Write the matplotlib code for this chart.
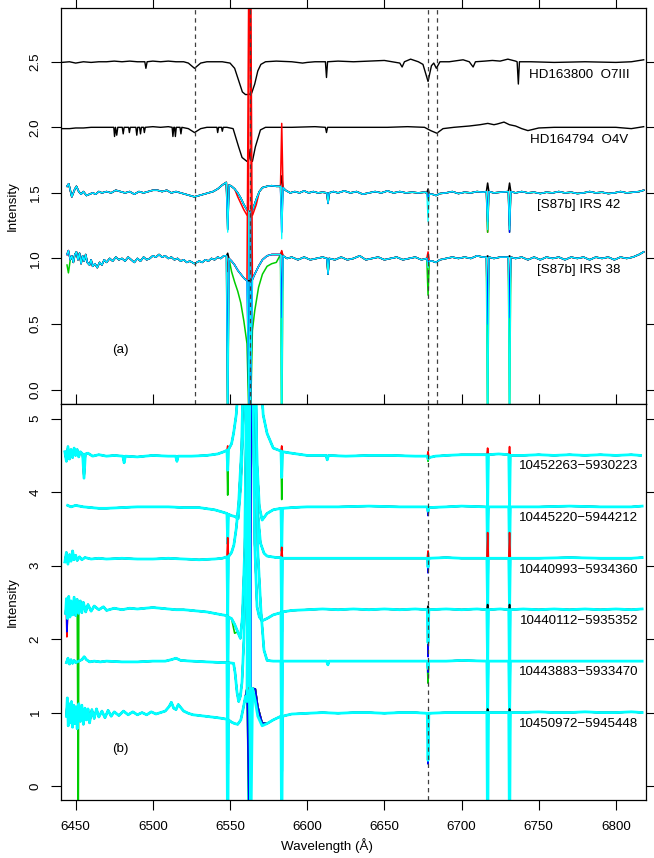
import matplotlib
matplotlib.use("Agg")
import matplotlib.pyplot as plt

plt.rcParams['font.family'] = ['Liberation Sans', 'DejaVu Sans']

# ---------------------------------------------------------------
# data: (wavelength [A], intensity) knots
# ---------------------------------------------------------------
hd163800 = [(6441, 2.495), (6446, 2.50), (6450, 2.49), (6455, 2.50), (6460, 2.495), (6465, 2.50),
            (6470, 2.50), (6475, 2.505), (6480, 2.50), (6485, 2.505), (6490, 2.50), (6494.8, 2.50),
            (6495.5, 2.45), (6496.3, 2.50), (6500, 2.505), (6505, 2.50), (6510, 2.505), (6515, 2.50),
            (6520, 2.50), (6523, 2.49), (6527, 2.45), (6531, 2.49), (6535, 2.50), (6540, 2.50),
            (6545, 2.50), (6550, 2.49), (6553, 2.45), (6555.5, 2.36), (6558, 2.27), (6560, 2.25),
            (6562, 2.25), (6564, 2.26), (6566, 2.33), (6568, 2.43), (6570, 2.48), (6573, 2.50),
            (6580, 2.505), (6590, 2.50), (6597, 2.49), (6600, 2.495), (6605, 2.50), (6611.8, 2.50),
            (6612.5, 2.38), (6613.2, 2.50), (6620, 2.505), (6630, 2.50), (6640, 2.505), (6650, 2.51),
            (6655, 2.50), (6660, 2.49), (6661.5, 2.46), (6663, 2.50), (6667, 2.52), (6672, 2.50),
            (6675, 2.48), (6678.3, 2.35), (6680.5, 2.47), (6682, 2.49), (6683.7, 2.45), (6686, 2.50),
            (6692, 2.50), (6701, 2.515), (6705, 2.50), (6707.5, 2.46), (6709, 2.50), (6715, 2.505),
            (6720, 2.51), (6725, 2.505), (6730, 2.52), (6735, 2.505), (6736, 2.50), (6736.8, 2.33),
            (6737.5, 2.50), (6745, 2.50), (6760, 2.495), (6780, 2.50), (6800, 2.495), (6810, 2.50),
            (6818, 2.515)]

hd164794 = [(6441, 1.99), (6446, 1.99), (6450, 1.995), (6455, 1.995), (6460, 2.0), (6465, 2.0),
            (6470, 2.0), (6474.7, 2.0), (6475.2, 1.93), (6475.8, 2.0), (6476.6, 1.94), (6477.3, 2.0),
            (6480.2, 2.0), (6480.8, 1.95), (6481.4, 2.0), (6484.3, 2.0), (6484.8, 1.96), (6485.4, 2.0),
            (6489.0, 2.0), (6489.6, 1.94), (6490.2, 2.0), (6491.4, 2.0), (6492.0, 1.95), (6492.6, 2.0),
            (6494.0, 2.0), (6494.5, 1.96), (6495.1, 2.0), (6500, 2.005), (6505, 2.0), (6510, 2.005),
            (6512.5, 2.0), (6513.0, 1.93), (6513.6, 2.0), (6514.1, 2.0), (6514.6, 1.93), (6515.2, 2.0),
            (6517.6, 2.0), (6518.2, 1.95), (6518.8, 2.0), (6523, 1.99), (6527, 1.96), (6531, 1.99),
            (6535, 2.0), (6541.5, 2.0), (6542, 1.96), (6542.6, 2.0), (6544.5, 2.0), (6545, 1.97),
            (6545.6, 2.0), (6548, 2.0), (6552, 1.99), (6555.6, 1.85), (6557.8, 1.77), (6561, 1.74),
            (6562.3, 1.76), (6563, 1.83), (6563.7, 1.76), (6564.5, 1.74), (6566.4, 1.85),
            (6569.7, 1.98), (6573, 2.0), (6590, 2.0), (6605, 2.005), (6611.8, 2.0), (6612.5, 1.96),
            (6613.2, 2.0), (6630, 2.0), (6652, 2.0), (6665, 2.005), (6676, 2.0), (6680, 1.975),
            (6684, 1.955), (6688, 1.99), (6695, 2.0), (6705, 2.01), (6712, 2.02), (6717, 2.03),
            (6721, 2.02), (6723, 2.025), (6727.5, 2.04), (6731, 2.02), (6735, 2.01), (6739, 1.99),
            (6743, 1.975), (6750, 1.995), (6760, 2.0), (6780, 2.0), (6800, 2.0), (6810, 1.99),
            (6818, 2.005)]

irs42 = [(6444.4, 1.55), (6445.5, 1.57), (6446.5, 1.52), (6447.5, 1.47), (6448.5, 1.50), (6449.5, 1.53),
         (6450.5, 1.55), (6452, 1.51), (6453.5, 1.49), (6455, 1.51), (6457, 1.48), (6459, 1.49),
         (6461, 1.50), (6463, 1.49), (6465, 1.51), (6467, 1.50), (6470, 1.51), (6473, 1.50),
         (6476, 1.52), (6479, 1.51), (6482, 1.50), (6485, 1.51), (6488, 1.49), (6491, 1.51),
         (6494, 1.50), (6497, 1.51), (6500, 1.52), (6503, 1.52), (6506, 1.51), (6509, 1.52),
         (6512, 1.50), (6515, 1.51), (6518, 1.50), (6521, 1.49), (6524, 1.48), (6527, 1.47),
         (6530, 1.48), (6533, 1.49), (6536, 1.50), (6539, 1.51), (6542, 1.53), (6545, 1.56),
         (6547.6, 1.58), (6549.4, 1.56), (6551, 1.55), (6553, 1.53), (6555, 1.50), (6557, 1.46),
         (6559, 1.41), (6561, 1.37), (6562, 1.36), (6563.7, 1.36), (6564.6, 1.37), (6567, 1.45),
         (6569, 1.51), (6571, 1.54), (6574, 1.55), (6577, 1.555), (6580, 1.55), (6582.7, 1.55),
         (6584.3, 1.54), (6586, 1.52), (6589, 1.50), (6592, 1.51), (6595, 1.50), (6598, 1.515),
         (6601, 1.50), (6604, 1.51), (6607, 1.50), (6610, 1.505), (6612.8, 1.50), (6613.5, 1.42),
         (6614.2, 1.50), (6617, 1.51), (6620, 1.50), (6624, 1.515), (6628, 1.50), (6632, 1.51),
         (6636, 1.49), (6640, 1.50), (6644, 1.51), (6648, 1.50), (6652, 1.515), (6656, 1.50),
         (6660, 1.51), (6664, 1.50), (6668, 1.505), (6672, 1.50), (6676, 1.505), (6677.5, 1.50),
         (6679.1, 1.49), (6681, 1.49), (6683.5, 1.48), (6686, 1.495), (6690, 1.50), (6694, 1.51),
         (6698, 1.495), (6702, 1.505), (6706, 1.50), (6710, 1.51), (6714, 1.505), (6716.1, 1.51),
         (6717.7, 1.51), (6721, 1.50), (6725, 1.505), (6730.3, 1.51), (6731.9, 1.51), (6735, 1.50),
         (6739, 1.51), (6743, 1.50), (6747, 1.505), (6751, 1.495), (6755, 1.505), (6759, 1.50),
         (6763, 1.51), (6767, 1.50), (6771, 1.505), (6775, 1.495), (6779, 1.50), (6783, 1.51),
         (6787, 1.50), (6791, 1.505), (6795, 1.495), (6799, 1.50), (6803, 1.51), (6807, 1.50),
         (6811, 1.505), (6815, 1.51), (6818, 1.52)]

irs38 = [(6444.4, 1.03), (6445.3, 1.06), (6446.5, 0.99), (6447.5, 1.02), (6448.5, 0.97), (6449.5, 1.03),
         (6450.5, 1.05), (6451.5, 0.99), (6452.5, 1.04), (6453.5, 0.96), (6454.5, 1.02), (6455.5, 0.98),
         (6456.5, 1.03), (6457.5, 0.97), (6459, 0.95), (6460, 0.99), (6461, 0.94), (6462.5, 0.96),
         (6464, 0.93), (6465.5, 0.97), (6467, 0.95), (6468.5, 0.99), (6470, 0.97), (6472, 1.0),
         (6474, 0.98), (6476, 1.01), (6478, 0.99), (6480, 1.0), (6482, 0.98), (6484, 1.01),
         (6486, 0.99), (6488, 0.97), (6490, 1.0), (6492, 0.98), (6494, 1.01), (6496, 0.99),
         (6498, 1.0), (6500, 1.02), (6502, 1.01), (6504, 1.03), (6506, 1.01), (6508, 1.02),
         (6510, 1.0), (6512, 1.01), (6514, 0.99), (6516, 1.0), (6518, 0.98), (6520, 0.99),
         (6522, 0.97), (6524, 0.98), (6527, 0.96), (6530, 0.98), (6532, 0.97), (6534, 0.99),
         (6536, 0.98), (6538, 1.0), (6540, 0.99), (6542, 1.01), (6544, 1.0), (6546, 1.02),
         (6547.7, 1.02), (6549.3, 1.0), (6551, 0.98), (6553, 0.95), (6555, 0.91), (6557, 0.88),
         (6559, 0.85), (6561, 0.83), (6564.5, 0.84), (6566, 0.88), (6568.5, 0.94), (6571, 0.99),
         (6574, 1.02), (6577, 1.03), (6580, 1.03), (6582.7, 1.03), (6584.3, 1.02), (6587, 1.0),
         (6590, 1.01), (6594, 0.99), (6598, 1.01), (6602, 0.99), (6606, 1.0), (6610, 1.01),
         (6612.8, 1.0), (6613.5, 0.88), (6614.2, 1.0), (6618, 0.99), (6622, 1.01), (6626, 0.99),
         (6630, 1.0), (6634, 1.02), (6638, 0.99), (6642, 1.0), (6646, 1.01), (6650, 0.99),
         (6654, 1.0), (6658, 1.01), (6662, 0.99), (6666, 1.0), (6670, 1.01), (6674, 0.99),
         (6677.5, 1.0), (6679.1, 0.98), (6681, 0.98), (6683.5, 0.97), (6686, 0.99), (6690, 1.0),
         (6694, 1.01), (6698, 1.0), (6702, 1.01), (6706, 1.0), (6710, 1.02), (6714, 1.01),
         (6716.1, 1.01), (6717.7, 1.01), (6721, 1.0), (6725, 1.01), (6730.3, 1.01), (6731.9, 1.01),
         (6735, 1.0), (6739, 1.01), (6743, 0.99), (6747, 1.01), (6751, 0.99), (6755, 1.01),
         (6759, 1.0), (6763, 1.01), (6767, 0.99), (6771, 1.01), (6775, 1.0), (6779, 1.01),
         (6783, 0.99), (6787, 1.01), (6791, 1.0), (6795, 1.01), (6799, 0.99), (6803, 1.01),
         (6807, 1.0), (6811, 1.01), (6815, 1.03), (6818, 1.05)]

# per-colour line cores / deviations (black, red, green, blue, cyan spectra)
irs42_lines = {
    'black': [(6548.5, 1.36), (6583.5, 1.63), (6678.3, 1.53), (6716.9, 1.575), (6731.1, 1.575)],
    'red': [(6548.5, 1.30), (6555, 1.47), (6557, 1.42), (6559, 1.37), (6561, 1.33), (6562.8, 4.5),
            (6564.6, 1.33), (6567, 1.41), (6583.5, 2.03), (6678.3, 1.48), (6716.9, 1.20), (6731.1, 1.25)],
    'green': [(6548.5, 1.22), (6562.8, -0.5), (6583.5, 1.30), (6678.3, 1.45), (6716.9, 1.20), (6731.1, 1.20)],
    'blue': [(6548.5, 1.22), (6562.8, -0.4), (6583.5, 1.20), (6678.3, 1.46), (6716.9, 1.28), (6731.1, 1.20)],
    'cyan': [(6548.5, 1.20), (6562.8, -0.5), (6583.5, 1.15), (6678.3, 1.28), (6716.9, 1.22), (6731.1, 1.22)],
}
irs38_lines = {
    'black': [(6548.5, 1.04), (6562.8, 0.83), (6583.5, 1.05), (6678.3, 0.98), (6716.9, 1.02), (6731.1, 1.02)],
    'red': [(6548.5, 0.90), (6562.8, 4.5), (6583.5, 1.06), (6678.3, 1.05), (6716.9, 0.35), (6731.1, 0.36)],
    'green': [(6444.4, 0.95), (6445.3, 0.89), (6548.5, -0.5), (6551, 0.90), (6553, 0.82), (6555, 0.75),
              (6557, 0.66), (6559, 0.52), (6561, 0.35), (6562.8, -0.5), (6564.5, 0.45), (6566, 0.60),
              (6568.5, 0.78), (6571, 0.88), (6574, 0.94), (6577, 0.96), (6580, 0.97), (6583.5, -0.5),
              (6678.3, 0.72), (6716.9, -0.4), (6731.1, -0.3)],
    'blue': [(6548.5, -0.2), (6562.8, -0.5), (6583.5, 0.55), (6678.3, 0.96), (6716.9, 0.50), (6731.1, 0.55)],
    'cyan': [(6548.5, -0.5), (6562.8, -0.5), (6583.5, -0.5), (6678.3, 0.93), (6716.9, -0.5), (6731.1, -0.5)],
}

# lower panel objects
star1 = [(6443, 4.55), (6444, 4.42), (6445, 4.62), (6446, 4.45), (6447, 4.58), (6448, 4.47), (6449, 4.60),
         (6450, 4.50), (6451, 4.58), (6452, 4.48), (6453, 4.55), (6454.5, 4.52), (6455.4, 4.19),
         (6456.3, 4.52), (6458, 4.53), (6461, 4.49), (6465, 4.51), (6470, 4.49), (6475, 4.50),
         (6480.6, 4.49), (6481.4, 4.40), (6482.2, 4.49), (6490, 4.48), (6500, 4.50), (6510, 4.49),
         (6514.8, 4.49), (6515.6, 4.42), (6516.4, 4.49), (6525, 4.49), (6535, 4.50), (6542, 4.52),
         (6546, 4.55), (6548.0, 4.57), (6549.0, 4.58), (6551, 4.66), (6552.3, 4.80), (6554, 5.05),
         (6555.5, 5.5), (6557, 6.5), (6568.5, 6.5), (6570, 5.5), (6571.5, 5.05), (6574, 4.80),
         (6578, 4.60), (6583.0, 4.56), (6584.0, 4.55), (6590, 4.53), (6600, 4.50), (6612.2, 4.50),
         (6613, 4.44), (6613.8, 4.50), (6625, 4.49), (6640, 4.50), (6655, 4.50), (6670, 4.49),
         (6677.8, 4.49), (6678.8, 4.47), (6683, 4.49), (6690, 4.50), (6700, 4.51), (6710, 4.51),
         (6716.4, 4.51), (6717.4, 4.51), (6724, 4.52), (6730.6, 4.51), (6731.6, 4.50), (6740, 4.50),
         (6750, 4.51), (6760, 4.50), (6770, 4.51), (6780, 4.50), (6790, 4.51), (6800, 4.50),
         (6810, 4.51), (6816, 4.50)]
star2 = [(6444.8, 3.82), (6447, 3.80), (6450, 3.82), (6455, 3.80), (6460, 3.79), (6465, 3.78),
         (6470, 3.78), (6480, 3.79), (6490, 3.80), (6500, 3.80), (6510, 3.80), (6520, 3.79),
         (6530, 3.79), (6540, 3.76), (6545, 3.73), (6548.0, 3.71), (6549.0, 3.70), (6551, 3.68),
         (6553, 3.67), (6555.3, 3.64), (6557, 4.10), (6558.5, 4.90), (6560, 6.0), (6566, 6.0),
         (6567.5, 4.40), (6569, 3.80), (6570.8, 3.62), (6574, 3.71), (6578, 3.76), (6583.0, 3.78),
         (6584.0, 3.78), (6590, 3.79), (6600, 3.80), (6620, 3.80), (6640, 3.81), (6660, 3.80),
         (6677.8, 3.80), (6678.8, 3.79), (6690, 3.80), (6700, 3.81), (6716.4, 3.80), (6717.4, 3.80),
         (6730.6, 3.80), (6731.6, 3.80), (6750, 3.80), (6770, 3.81), (6790, 3.80), (6810, 3.80),
         (6817, 3.81)]
star3 = [(6443, 3.05), (6444, 3.18), (6445, 3.02), (6446, 3.15), (6447, 3.06), (6448, 3.20), (6449, 3.08),
         (6450, 3.14), (6451, 3.07), (6452.5, 3.12), (6454, 3.08), (6456, 3.11), (6460, 3.09),
         (6465, 3.10), (6470, 3.09), (6480, 3.10), (6490, 3.09), (6500, 3.09), (6510, 3.10),
         (6520, 3.09), (6530, 3.08), (6540, 3.09), (6545, 3.10), (6548.0, 3.12), (6549.0, 3.12),
         (6551, 3.18), (6552.5, 3.28), (6554, 3.50), (6555.6, 3.85), (6557.5, 4.60), (6559, 6.0),
         (6565.5, 5.5), (6566.5, 4.30), (6567.5, 3.84), (6569.7, 3.31), (6572, 3.17), (6574, 3.13),
         (6580, 3.11), (6583.0, 3.11), (6584.0, 3.10), (6590, 3.10), (6600, 3.10), (6620, 3.10),
         (6640, 3.10), (6660, 3.10), (6677.8, 3.10), (6678.8, 3.10), (6690, 3.11), (6700, 3.10),
         (6716.4, 3.10), (6717.4, 3.10), (6730.6, 3.10), (6731.6, 3.10), (6750, 3.10), (6770, 3.11),
         (6790, 3.10), (6810, 3.10), (6817, 3.11)]
star4 = [(6443.5, 2.35), (6444, 2.55), (6444.7, 2.28), (6445.5, 2.58), (6446.3, 2.30), (6447, 2.52),
         (6448, 2.33), (6449, 2.57), (6450, 2.32), (6451, 2.54), (6452, 2.35), (6453, 2.52),
         (6454, 2.36), (6455, 2.50), (6456.5, 2.37), (6458, 2.47), (6460, 2.38), (6462, 2.45),
         (6465, 2.40), (6468, 2.44), (6470, 2.39), (6475, 2.42), (6480, 2.40), (6485, 2.42),
         (6490, 2.41), (6495, 2.42), (6500, 2.43), (6505, 2.42), (6510, 2.41), (6515, 2.40),
         (6520, 2.40), (6525, 2.39), (6530, 2.38), (6535, 2.37), (6540, 2.35), (6545, 2.33),
         (6548.0, 2.32), (6549.0, 2.30), (6551, 2.28), (6553, 2.20), (6555, 2.10), (6556.7, 2.01),
         (6558, 2.30), (6559.5, 3.20), (6561, 6.0), (6564.5, 6.0), (6566, 3.30), (6567.5, 2.44),
         (6569, 2.30), (6570.8, 2.25), (6574, 2.28), (6578, 2.33), (6583.0, 2.36), (6584.0, 2.37),
         (6590, 2.39), (6600, 2.40), (6610, 2.41), (6620, 2.40), (6630, 2.41), (6640, 2.40),
         (6650, 2.41), (6660, 2.40), (6670, 2.41), (6677.8, 2.40), (6678.8, 2.40), (6690, 2.41),
         (6700, 2.40), (6710, 2.41), (6716.4, 2.40), (6717.4, 2.40), (6725, 2.41), (6730.6, 2.40),
         (6731.6, 2.40), (6740, 2.41), (6750, 2.40), (6760, 2.41), (6770, 2.40), (6780, 2.41),
         (6790, 2.40), (6800, 2.41), (6810, 2.40), (6817, 2.41)]
star5 = [(6444, 1.68), (6445, 1.74), (6446, 1.66), (6447, 1.72), (6448, 1.67), (6449, 1.71), (6450, 1.68),
         (6452, 1.70), (6454, 1.72), (6455.5, 1.76), (6457, 1.72), (6459, 1.69), (6462, 1.70),
         (6466, 1.69), (6470, 1.70), (6480, 1.69), (6490, 1.69), (6500, 1.70), (6508, 1.70),
         (6512, 1.72), (6515, 1.74), (6518, 1.71), (6525, 1.70), (6535, 1.69), (6545, 1.68),
         (6548.0, 1.68), (6549.0, 1.68), (6552.3, 1.67), (6553.3, 1.54), (6554.5, 1.28), (6555.6, 1.15),
         (6556.7, 1.22), (6557.8, 1.42), (6559, 2.0), (6560.5, 3.5), (6561.5, 6.0), (6566.5, 6.0),
         (6568, 3.2), (6570, 2.4), (6572, 1.85), (6574, 1.71), (6578, 1.70), (6583.0, 1.70),
         (6584.0, 1.70), (6590, 1.70), (6600, 1.70), (6612.6, 1.70), (6613.4, 1.65), (6614.2, 1.70),
         (6625, 1.70), (6640, 1.70), (6660, 1.70), (6677.8, 1.70), (6678.8, 1.70), (6690, 1.70),
         (6700, 1.71), (6716.4, 1.70), (6717.4, 1.70), (6730.6, 1.70), (6731.6, 1.70), (6750, 1.70),
         (6770, 1.70), (6790, 1.70), (6810, 1.70), (6817, 1.70)]
star6 = [(6444, 0.95), (6444.6, 1.20), (6445.2, 0.82), (6445.9, 1.12), (6446.6, 0.86), (6447.3, 1.15),
         (6448, 0.80), (6448.7, 1.10), (6449.4, 0.85), (6450.2, 1.08), (6451, 0.78), (6452, 1.12),
         (6453, 0.88), (6454, 1.10), (6455, 0.84), (6456, 1.06), (6457, 0.90), (6458, 1.05),
         (6459, 0.86), (6460.5, 1.04), (6462, 0.92), (6463.5, 1.05), (6465, 0.94), (6467, 1.02),
         (6469, 0.93), (6471, 1.03), (6473, 0.95), (6475, 1.01), (6478, 0.96), (6481, 1.02),
         (6484, 0.97), (6487, 1.01), (6490, 0.97), (6493, 1.00), (6496, 0.97), (6499, 1.01),
         (6502, 0.98), (6505, 1.00), (6508, 1.02), (6510.5, 1.08), (6512, 1.14), (6513.5, 1.06),
         (6515, 1.04), (6516.5, 1.11), (6518, 1.07), (6520, 1.02), (6523, 0.99), (6526, 0.97),
         (6530, 0.96), (6534, 0.95), (6538, 0.94), (6542, 0.93), (6545, 0.92), (6548.0, 0.91),
         (6549.0, 0.90), (6551, 0.87), (6553, 0.85), (6555, 0.84), (6557, 0.90), (6558.5, 1.05),
         (6560, 1.22), (6561, 1.33), (6564.6, 1.33), (6566.4, 1.32), (6568, 1.08), (6570.8, 0.86),
         (6574, 0.85), (6578, 0.90), (6583.0, 0.95), (6584.0, 0.95), (6590, 0.98), (6600, 0.99),
         (6610, 1.00), (6620, 0.99), (6630, 1.00), (6640, 1.00), (6650, 0.99), (6660, 1.00),
         (6670, 1.00), (6677.8, 0.99), (6678.8, 0.99), (6690, 1.00), (6700, 1.00), (6710, 1.00),
         (6716.4, 1.00), (6717.4, 1.00), (6725, 1.00), (6730.6, 1.00), (6731.6, 1.00), (6740, 1.00),
         (6750, 1.01), (6760, 1.00), (6770, 1.00), (6780, 1.01), (6790, 1.00), (6800, 1.00),
         (6810, 1.01), (6817, 1.00)]

star1_lines = {
    'black': [(6562.6, 7), (6563.1, 3.45), (6563.6, 7)],
    'red': [(6548.5, 4.63), (6583.5, 4.63), (6678.3, 4.55), (6716.9, 4.60), (6731.1, 4.62)],
    'green': [(6548.5, 3.96), (6583.5, 3.90), (6678.3, 4.42), (6716.9, 3.75), (6731.1, 3.70)],
    'blue': [(6562.8, 7), (6563.3, -1), (6563.8, 7), (6583.5, 4.30)],
    'cyan': [(6548.5, 4.30), (6561.8, 7), (6562.3, -1), (6562.8, 7), (6583.5, 4.20), (6678.3, 4.45),
             (6716.9, 3.78), (6731.1, 3.75)],
}
star2_lines = {
    'red': [(6716.9, 3.60)],
    'green': [(6716.9, 3.30)],
    'blue': [(6548.5, 3.45), (6583.5, 3.30), (6678.3, 3.68), (6716.9, 3.10), (6731.1, 3.10)],
    'cyan': [(6548.5, 3.30), (6583.5, 3.20), (6678.3, 3.74), (6716.9, 3.05), (6731.1, 3.05)],
}
star3_lines = {
    'black': [(6583.5, 3.00)],
    'red': [(6548.5, 3.38), (6583.5, 3.25), (6678.3, 3.20), (6716.9, 3.45), (6731.1, 3.45)],
    'green': [(6678.3, 3.00)],
    'blue': [(6548.5, 2.20), (6583.5, 2.20), (6678.3, 2.90), (6716.9, 2.35), (6731.1, 2.35)],
    'cyan': [(6548.5, 2.30), (6583.5, 2.10), (6678.3, 2.98), (6716.9, 2.35), (6731.1, 2.35)],
}
star4_lines = {
    'black': [(6548.5, 2.05), (6678.3, 2.45), (6716.9, 2.47), (6731.1, 2.47)],
    'red': [(6444.3, 2.03)],
    'green': [(6451.7, -0.5), (6553, 2.08)],
    'blue': [(6444.3, 2.10), (6548.5, 1.00), (6583.5, 1.00), (6678.3, 1.76), (6716.9, 1.50), (6731.1, 1.00)],
    'cyan': [(6548.5, 1.20), (6583.5, 1.00), (6678.3, 1.95), (6716.9, 1.60), (6731.1, 1.30)],
}
star5_lines = {
    'green': [(6678.3, 1.40)],
    'blue': [(6548.5, 0.50), (6583.5, 0.40), (6678.3, 1.55), (6716.9, 0.90), (6731.1, 0.80)],
    'cyan': [(6548.5, 0.30), (6583.5, 0.20), (6678.3, 1.60), (6716.9, 0.95), (6731.1, 0.90)],
}
star6_lines = {
    'black': [(6548.5, 0.60), (6583.5, 0.40), (6678.3, 0.98), (6716.9, 1.05), (6731.1, 1.05)],
    'green': [(6562.6, -1), (6716.9, -0.5), (6731.1, -0.5)],
    'blue': [(6548.5, -1), (6562.8, -1), (6583.5, -1), (6678.3, 0.30), (6716.9, 0.45), (6731.1, 0.60)],
    'cyan': [(6548.5, -1), (6561, 1.15), (6562.3, 8), (6563.3, -1), (6566.4, 1.15), (6568, 0.95),
             (6570.8, 0.82), (6583.5, -1), (6678.3, 0.35), (6716.9, -1), (6731.1, -1)],
}

top_labels = ['HD163800  O7III', 'HD164794  O4V', '[S87b] IRS 42', '[S87b] IRS 38']
top_label_y = [2.40, 1.90, 1.41, 0.91]
bottom_labels = ['10452263\u22125930223', '10445220\u22125944212', '10440993\u22125934360',
                 '10440112\u22125935352', '10443883\u22125933470', '10450972\u22125945448']
bottom_label_y = [4.35, 3.65, 2.94, 2.25, 1.55, 0.85]
top_marks = [6527.0, 6562.8, 6678.3, 6683.9]
bottom_marks = [6678.3]

colour_order = ['black', 'red', 'green', 'blue', 'cyan']
colours = {'black': 'black', 'red': '#FF0000', 'green': '#00CD00', 'blue': '#0000FF', 'cyan': '#00FFFF'}


def merge(base, extra):
    pts = dict(base)
    pts.update(dict(extra))
    xs = sorted(pts)
    return xs, [pts[x] for x in xs]


def draw_star(ax, base, lines, lw_under, lw_cyan):
    for c in colour_order:
        xs, ys = merge(base, lines.get(c, []))
        lw = lw_cyan if c == 'cyan' else lw_under
        ax.plot(xs, ys, color=colours[c], lw=lw, solid_joinstyle='round')


fig = plt.figure(figsize=(6.54, 8.58), dpi=100)
ax1 = fig.add_axes([61 / 654, 1 - 404 / 858, 585 / 654, 396 / 858])
ax2 = fig.add_axes([61 / 654, 1 - 800 / 858, 585 / 654, 396 / 858])
ax2.set_zorder(2)

# ---- panel (a)
for spec in [hd163800, hd164794]:
    xs, ys = merge(spec, [])
    ax1.plot(xs, ys, color='black', lw=1.0)
draw_star(ax1, irs42, irs42_lines, 1.1, 0.9)
draw_star(ax1, irs38, irs38_lines, 1.1, 0.9)
for m in top_marks:
    ax1.axvline(m, color='0.25', lw=0.9, ls=(0, (3.5, 3)), zorder=3)
for lab, y in zip(top_labels, top_label_y):
    ax1.text(6776, y, lab, ha='center', va='center', fontsize=9.6)
ax1.text(6479, 0.30, '(a)', ha='center', va='center', fontsize=9.6)
ax1.set_ylim(-0.11, 2.91)
ax1.set_yticks([0.0, 0.5, 1.0, 1.5, 2.0, 2.5])
ax1.set_yticklabels(['0.0', '0.5', '1.0', '1.5', '2.0', '2.5'])

# ---- panel (b)
for base, lines in [(star1, star1_lines), (star2, star2_lines), (star3, star3_lines),
                    (star4, star4_lines), (star5, star5_lines), (star6, star6_lines)]:
    draw_star(ax2, base, lines, 1.2, 2.0)
for m in bottom_marks:
    ax2.axvline(m, color='0.25', lw=0.9, ls=(0, (3.5, 3)), zorder=3)
for lab, y in zip(bottom_labels, bottom_label_y):
    ax2.text(6776, y, lab, ha='center', va='center', fontsize=9.6)
ax2.text(6479, 0.50, '(b)', ha='center', va='center', fontsize=9.6)
ax2.set_ylim(-0.19, 5.2)
ax2.set_yticks([0, 1, 2, 3, 4, 5])

for ax in (ax1, ax2):
    ax.set_xlim(6440.5, 6819.5)
    ax.set_xticks([6450, 6500, 6550, 6600, 6650, 6700, 6750, 6800])
    ax.tick_params(direction='out', length=7, width=0.8, labelsize=9.6, right=True, top=True)
    ax.tick_params(axis='y', labelrotation=90, pad=7)
    ax.tick_params(axis='x', pad=8)
    for lab in ax.get_yticklabels():
        lab.set_va('center')
    for s in ax.spines.values():
        s.set_linewidth(0.9)
ax1.tick_params(axis='x', bottom=False, labelbottom=False)

fig.text(13 / 654, 1 - 206 / 858, 'Intensity', rotation=90, ha='center', va='center', fontsize=9.6)
fig.text(13 / 654, 1 - 602 / 858, 'Intensity', rotation=90, ha='center', va='center', fontsize=9.6)
fig.text(327 / 654, 1 - 846 / 858, 'Wavelength (\u00c5)', ha='center', va='center', fontsize=9.6)

fig.savefig('out.png', dpi=100)
